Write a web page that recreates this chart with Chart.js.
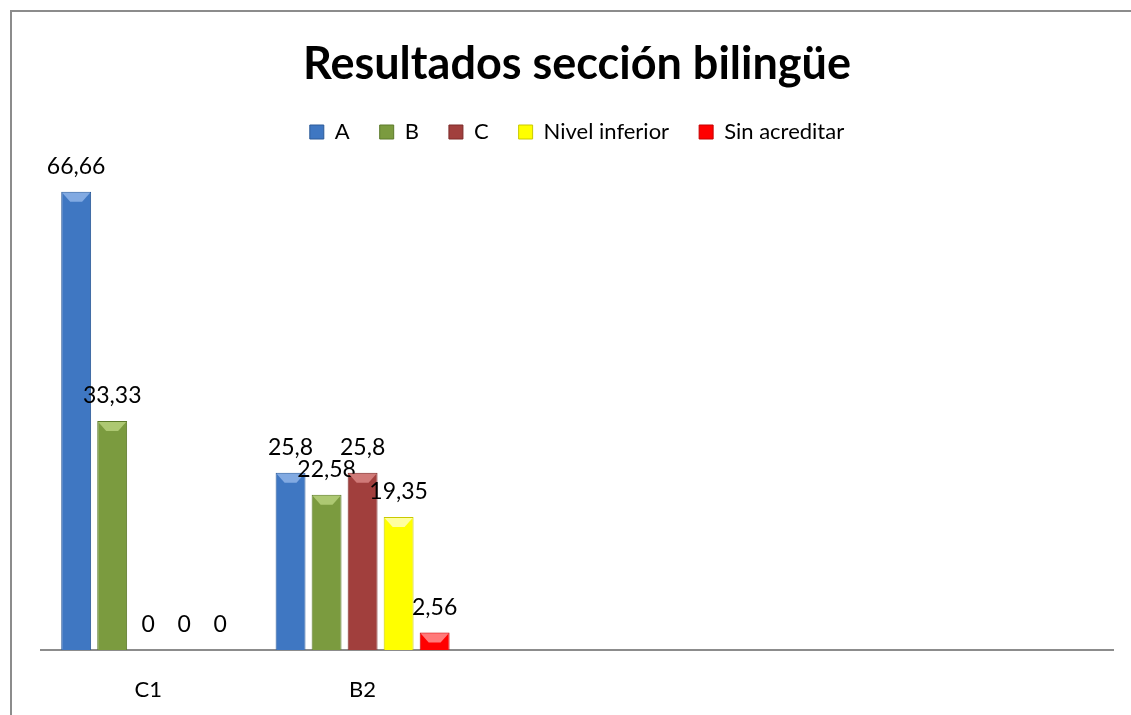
<!DOCTYPE html>
<html lang="es">
<head>
    <meta charset="UTF-8">
    <title>Resultados sección bilingüe</title>
    <script src="https://cdn.jsdelivr.net/npm/chart.js"></script>
    <style>
        body { margin: 0; background: #fff; }
        #frame {
            position: absolute; left: 10px; top: 10px;
            width: 1121px; height: 705px;
            border-left: 2px solid #8c8c8c; border-top: 2px solid #8c8c8c;
        }
    </style>
</head>
<body>
    <div id="frame"><canvas id="myChart" width="1119" height="703"></canvas></div>
    <script>
        // categories (the last three are empty in the original sheet)
        const niveles = ['C1', 'B2', '', '', ''];
        const seriesNames = ['A', 'B', 'C', 'Nivel inferior', 'Sin acreditar'];
        const valoresA = [66.66, 25.8, null, null, null];
        const valoresB = [33.33, 22.58, null, null, null];
        const valoresC = [0, 25.8, null, null, null];
        const valoresInferior = [0, 19.35, null, null, null];
        const valoresSinAcreditar = [0, 2.56, null, null, null];
        const colores = ['#3f77c2', '#7b9b3f', '#a13f3d', '#ffff00', '#ff0000'];
        const bordes = ['#2c5a98', '#5c7a2a', '#7c2b29', '#c9c900', '#c40000'];
        const brillos = ['#82aae2', '#adc872', '#d07a78', '#ffffa0', '#ff7a7a'];

        const fontFam = 'Lato, "Liberation Sans", sans-serif';

        // bevel on top of the bars + numbers above them (comma decimals)
        const valueLabels = {
            id: 'valueLabels',
            afterDatasetsDraw(chart) {
                const ctx = chart.ctx;
                ctx.save();
                chart.data.datasets.forEach((ds, i) => {
                    chart.getDatasetMeta(i).data.forEach((bar, j) => {
                        const v = ds.data[j];
                        if (v === null) return;
                        const h = bar.base - bar.y;
                        if (h > 10) {
                            const l = bar.x - bar.width / 2, r = bar.x + bar.width / 2;
                            ctx.fillStyle = brillos[i];
                            ctx.beginPath();
                            ctx.moveTo(l + 1, bar.y + 1);
                            ctx.lineTo(r - 1, bar.y + 1);
                            ctx.lineTo(r - 9, bar.y + 10);
                            ctx.lineTo(l + 9, bar.y + 10);
                            ctx.closePath();
                            ctx.fill();
                        }
                        ctx.font = '23px ' + fontFam;
                        ctx.fillStyle = '#000';
                        ctx.textAlign = 'center';
                        ctx.textBaseline = 'middle';
                        ctx.fillText(String(v).replace('.', ','), bar.x, bar.y - 25);
                    });
                });
                ctx.restore();
            }
        };

        const allData = [valoresA, valoresB, valoresC, valoresInferior, valoresSinAcreditar];

        new Chart(document.getElementById('myChart'), {
            type: 'bar',
            data: {
                labels: niveles,
                datasets: allData.map((d, i) => ({
                    label: seriesNames[i],
                    data: d,
                    backgroundColor: colores[i],
                    borderColor: bordes[i],
                    borderWidth: 1,
                    categoryPercentage: 0.84,
                    barPercentage: 0.83
                }))
            },
            options: {
                responsive: false,
                animation: false,
                layout: { padding: { left: 29, right: 18, top: 0, bottom: 12 } },
                plugins: {
                    title: {
                        display: true,
                        text: 'Resultados sección bilingüe',
                        color: '#000',
                        font: { family: fontFam, size: 45, weight: 'bold' },
                        padding: { top: 25, bottom: 0 }
                    },
                    legend: {
                        labels: {
                            color: '#000',
                            font: { family: fontFam, size: 22 },
                            boxWidth: 14,
                            boxHeight: 14,
                            padding: 30
                        }
                    },
                    tooltip: { enabled: false }
                },
                scales: {
                    x: {
                        grid: { display: false, drawTicks: false },
                        border: { display: true, color: '#8c8c8c', width: 2 },
                        ticks: { color: '#000', font: { family: fontFam, size: 22 }, padding: 27 },
                        afterFit(scale) { scale.height = 53; }
                    },
                    y: {
                        display: false,
                        min: 0,
                        max: 72.3
                    }
                }
            },
            plugins: [valueLabels]
        });
    </script>
</body>
</html>
